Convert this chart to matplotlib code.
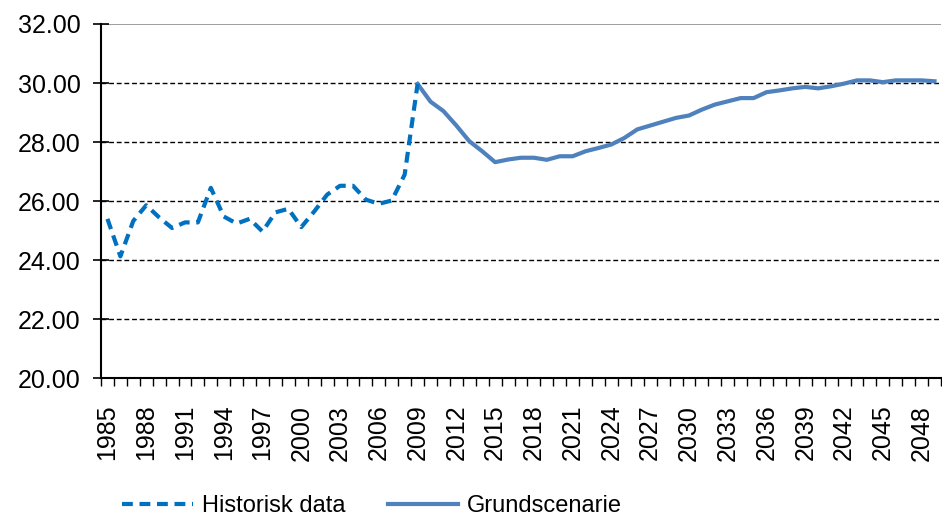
import matplotlib

matplotlib.use("Agg")

import matplotlib.pyplot as plt
import numpy as np

plt.rcParams["font.family"] = ["Liberation Sans", "DejaVu Sans"]

YEARS = list(range(1985, 2050))

HIST_YEARS = list(range(1985, 2010))
HIST_VALUES = [
    25.40, 24.13, 25.33, 25.86, 25.45, 25.09, 25.28, 25.28, 26.45, 25.48,
    25.24, 25.40, 24.97, 25.62, 25.74, 25.12, 25.65, 26.22, 26.52, 26.52,
    26.05, 25.91, 26.02, 26.90, 29.97,
]

BASE_YEARS = list(range(2009, 2050))
BASE_VALUES = [
    29.97, 29.37, 29.05, 28.56, 28.03, 27.69, 27.32, 27.41, 27.47, 27.47,
    27.40, 27.52, 27.52, 27.69, 27.80, 27.92, 28.14, 28.43, 28.56, 28.69,
    28.82, 28.90, 29.10, 29.27, 29.38, 29.49, 29.49, 29.69, 29.75, 29.82,
    29.87, 29.82, 29.89, 29.98, 30.09, 30.09, 30.03, 30.09, 30.09, 30.09,
    30.06,
]

Y_TICKS = [20, 22, 24, 26, 28, 30, 32]


def year_pos(years):
    return np.array([YEARS.index(y) for y in years])


fig = plt.figure(figsize=(9.42, 5.17), dpi=100)
ax = fig.add_axes([0.1072, 0.2683, 0.8917, 0.6853])

for y in Y_TICKS[1:-1]:
    ax.axhline(y, color="black", linewidth=1.0, dashes=(3.5, 2.0), zorder=1)
ax.axhline(32, color="#8c8c8c", linewidth=1.2, zorder=1)

ax.plot(year_pos(HIST_YEARS), HIST_VALUES, color="#0070C0", linewidth=3.0,
        dashes=(2.6, 1.6), label="Historisk data", zorder=3)
ax.plot(year_pos(BASE_YEARS), BASE_VALUES, color="#4F81BD", linewidth=3.0,
        label="Grundscenarie", zorder=2)

ax.set_xlim(-0.5, len(YEARS) - 0.5)
ax.set_ylim(20, 32)

ax.set_yticks(Y_TICKS)
ax.set_yticklabels([f"{v:.2f}" for v in Y_TICKS], fontsize=18)
ax.tick_params(axis="y", direction="inout", length=11, width=1.2, pad=9)

label_idx = list(range(0, len(YEARS), 3))
ax.set_xticks(label_idx)
ax.set_xticklabels([str(YEARS[i]) for i in label_idx], rotation=90, fontsize=18)
ax.set_xticks(np.arange(-0.5, len(YEARS), 1.0), minor=True)
ax.tick_params(axis="x", which="major", length=0, pad=19)
ax.tick_params(axis="x", which="minor", direction="out", length=6, width=1.0)

for side in ("top", "right"):
    ax.spines[side].set_visible(False)
for side in ("left", "bottom"):
    ax.spines[side].set_color("black")
    ax.spines[side].set_linewidth(1.5)

fig.legend(loc="center", bbox_to_anchor=(0.395, 0.021), ncol=2, frameon=False,
           fontsize=17, handlelength=3.0, handletextpad=0.35, columnspacing=1.8)

fig.savefig("out.png", dpi=100)
